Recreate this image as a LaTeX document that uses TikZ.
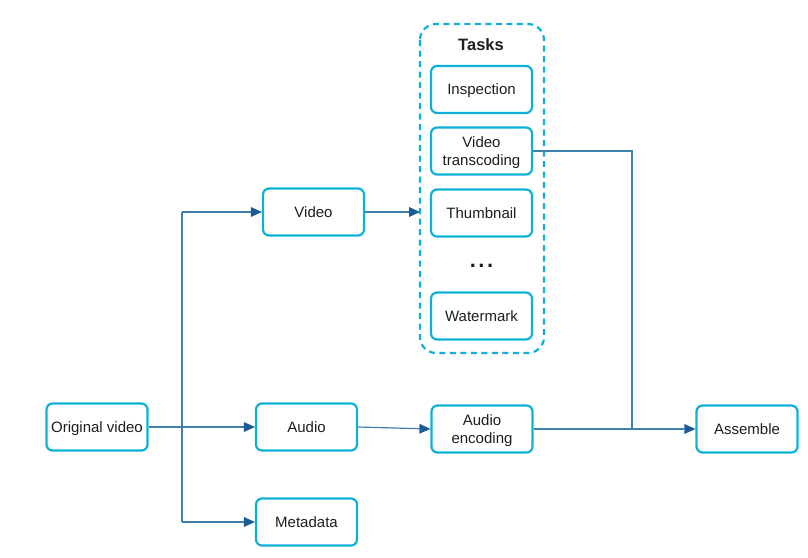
\documentclass[tikz,border=0pt]{standalone}
\usepackage{fontspec}
\setmainfont{Liberation Sans}
\usetikzlibrary{arrows.meta}
\definecolor{boxcyan}{RGB}{14,176,216}
\definecolor{linkblue}{RGB}{62,128,172}
\definecolor{tipblue}{RGB}{28,92,150}
\definecolor{txt}{RGB}{30,30,30}
\tikzset{
  x=1pt, y=-1pt,
  stage/.style={draw=boxcyan, line width=2.2pt, rounded corners=6pt,
    minimum width=101pt, minimum height=47pt, inner sep=2pt, text depth=0pt,
    align=center, font=\fontsize{15}{18}\selectfont, text=txt},
  group/.style={draw=boxcyan, line width=2.2pt, dash pattern=on 6pt off 4.5pt,
    rounded corners=16pt},
  link/.style={draw=linkblue, line width=1.2pt,
    -{Triangle[length=11pt,width=10pt,color=tipblue,fill=tipblue,line width=0pt]}},
  plain/.style={draw=linkblue, line width=1.2pt},
}
\begin{document}
\begin{tikzpicture}
\useasboundingbox (0,0) rectangle (808,557);
\fill[white] (0,0) rectangle (808,557);

% task group container
\draw[group] (420,24) rectangle (544,353);
\node[font=\fontsize{16.5}{18}\selectfont\bfseries, text=txt, text depth=0pt] (tasks) at (481,45) {Tasks};
\node[stage] (insp) at (481.5,89.5) {Inspection};
\node[stage] (trans) at (481.5,151) {Video\\transcoding};
\node[stage] (thumb) at (481.5,213) {Thumbnail};
\node[font=\fontsize{22}{22}\selectfont\bfseries, text=txt] (dots) at (481.5,266) {.\hspace{2.5pt}.\hspace{2.5pt}.};
\node[stage] (water) at (481.5,316) {Watermark};
\coordinate (grpin) at (420,212);

% pipeline stages
\node[stage] (orig) at (97,427) {Original video};
\node[stage] (video) at (313.5,212) {Video};
\node[stage] (audio) at (306.5,427) {Audio};
\node[stage] (meta) at (306.5,522) {Metadata};
\node[stage] (aenc) at (482,429) {Audio\\encoding};
\node[stage] (asm) at (747,429) {Assemble};

% splitting the original video
\coordinate (trunktop) at (182,212);
\coordinate (trunkbot) at (182,522);
\draw[link] (orig.east) -- (audio.west);
\draw[plain] (trunktop) -- (trunkbot);
\draw[link] (trunktop) -- (video.west);
\draw[link] (trunkbot) -- (meta.west);

% processing
\draw[link] (video.east) -- (grpin);
\draw[link] (audio.east) -- (aenc.west);
\coordinate (join) at (632,429);
\draw[plain] (trans.east) -| (join);
\draw[link] (aenc.east) -- (asm.west);
\end{tikzpicture}
\end{document}
